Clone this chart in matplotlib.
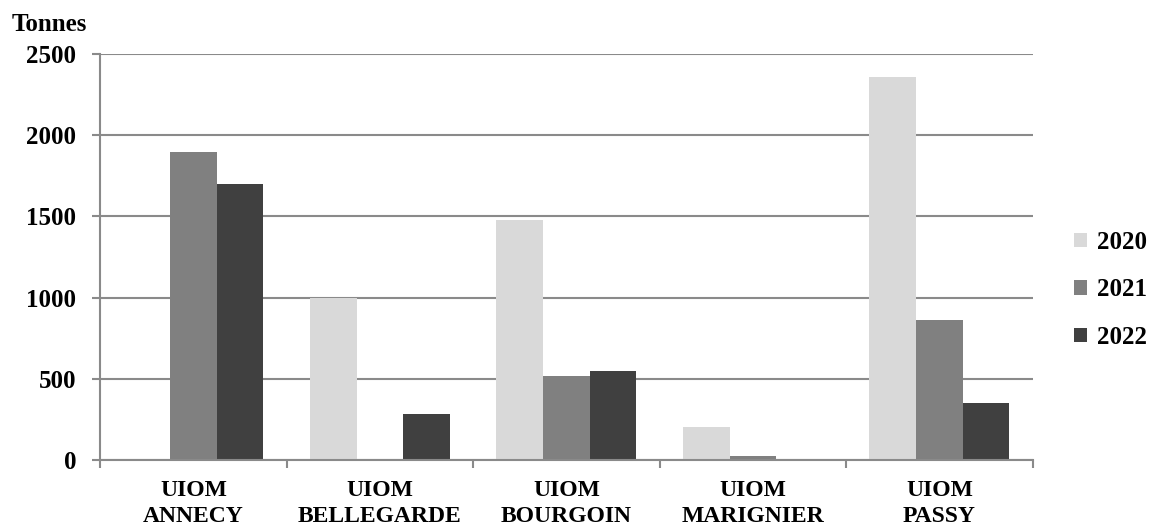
import numpy as np
import matplotlib
matplotlib.use('Agg')
import matplotlib.pyplot as plt

sites = ['UIOM\nANNECY', 'UIOM\nBELLEGARDE', 'UIOM\nBOURGOIN', 'UIOM\nMARIGNIER', 'UIOM\nPASSY']
years = ['2020', '2021', '2022']
v2020 = [0, 1000, 1475, 205, 2360]
v2021 = [1895, 0, 515, 23, 860]
v2022 = [1700, 283, 550, 0, 353]
colors = ['#d9d9d9', '#808080', '#404040']

plt.rcParams['font.family'] = 'Liberation Serif'
plt.rcParams['font.weight'] = 'bold'

fig = plt.figure(figsize=(11.57, 5.24), dpi=100)
ax = fig.add_axes([0.0865, 0.122, 0.806, 0.775])

x = np.arange(len(sites))
w = 0.25
for i, vals in enumerate([v2020, v2021, v2022]):
    ax.bar(x + (i - 1) * w, vals, w, color=colors[i], label=years[i], zorder=2)

ax.set_xlim(-0.5, len(sites) - 0.5)
ax.set_ylim(0, 2500)
ax.set_yticks(np.arange(0, 2501, 500))
ax.yaxis.grid(True, color='#8a8a8a', linewidth=1.5, zorder=0)
ax.set_axisbelow(True)

ax.set_xticks(x)
ax.set_xticklabels(sites, fontsize=17, fontweight='bold', linespacing=1.35)
ax.set_xticks(np.arange(-0.5, len(sites)), minor=True)
ax.tick_params(axis='x', which='major', length=0, pad=14)
ax.tick_params(axis='x', which='minor', length=6, width=1.5, color='#8a8a8a', direction='out')
ax.tick_params(axis='y', length=6, width=1.5, color='#8a8a8a', labelsize=18, pad=11)
for lab in ax.get_yticklabels():
    lab.set_fontweight('bold')

for s in ['top', 'right']:
    ax.spines[s].set_visible(False)
for s in ['left', 'bottom']:
    ax.spines[s].set_color('#8a8a8a')
    ax.spines[s].set_linewidth(1.5)

fig.text(0.0104, 0.941, 'Tonnes', fontsize=18, fontweight='bold', va='baseline')

leg = ax.legend(loc='center left', bbox_to_anchor=(0.928, 0.447), bbox_transform=fig.transFigure,
                frameon=False, borderpad=0, borderaxespad=0,
                prop={'size': 18, 'weight': 'bold'}, handlelength=0.52, handleheight=0.52,
                handletextpad=0.4, labelspacing=0.98)

fig.savefig('out.png', dpi=100)
